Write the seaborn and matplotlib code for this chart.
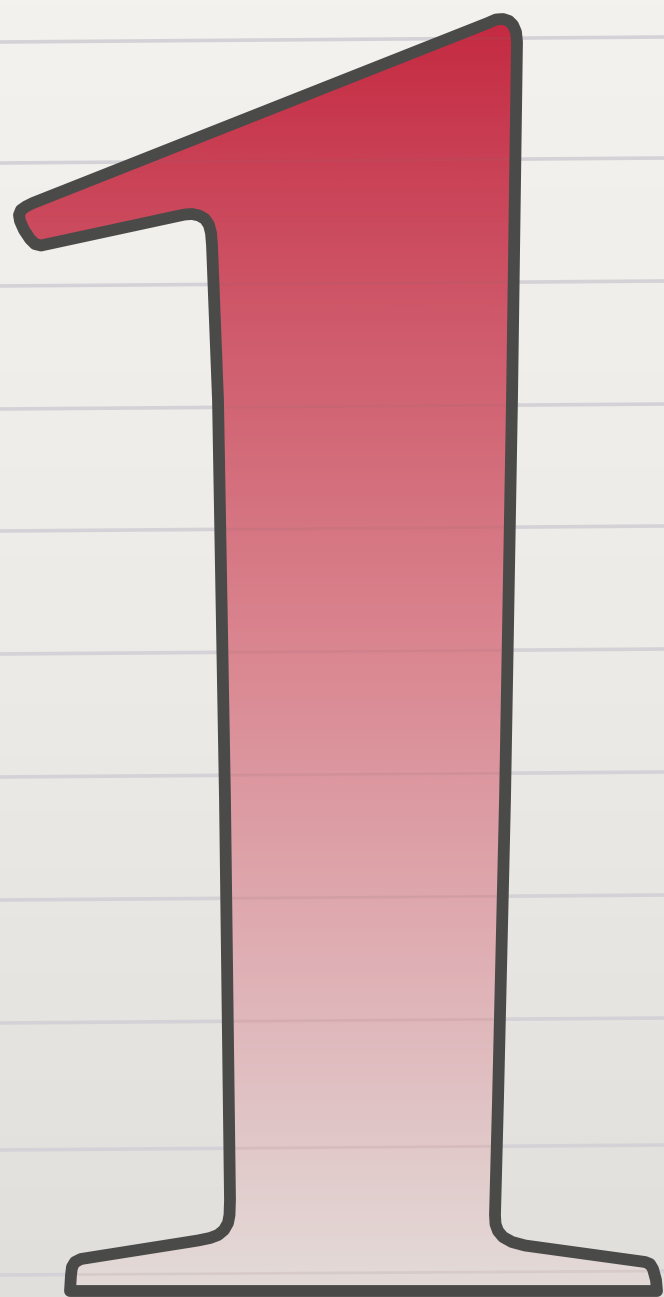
import numpy as np
import pandas as pd
import matplotlib
matplotlib.use("Agg")
import matplotlib.pyplot as plt
import seaborn as sns
from matplotlib.patches import Polygon
from matplotlib.colors import LinearSegmentedColormap

# ------------------------------------------------------
# Data
# ------------------------------------------------------
W, H = 664, 1297

# plank seams: y at the left edge and at the right edge (pixels)
plank_y_left = [42, 163, 286, 409, 531, 654, 777, 900, 1023, 1150, 1275]
plank_y_right = [37, 158, 281, 404, 526, 649, 772, 895, 1018, 1145, 1271]

# outline of the numeral (centre of the stroke), clockwise from the top corner
outline_x = [488, 496, 503, 509, 513, 516, 517, 512, 505, 498, 495,
             495.5, 498, 503, 512, 525, 645, 650, 653, 656, 657,
             70, 71, 72, 75, 81, 198, 210, 218, 224, 228, 229.5, 230,
             225, 218, 212, 211, 209, 205, 199, 192, 185, 180,
             48, 41, 35, 30, 24, 20, 19, 21, 26, 33]
outline_y = [23, 19.5, 19, 21, 25, 32, 42, 400, 800, 1100, 1215,
             1224, 1231, 1237, 1242, 1245.5, 1262, 1264, 1269, 1280, 1291,
             1291, 1275, 1267, 1262, 1259, 1240.5, 1238, 1235, 1230, 1223, 1215, 1200,
             800, 400, 245, 233, 225, 219, 215.5, 214, 214.5, 215.5,
             244, 245.5, 244, 239, 230, 221, 215, 210, 206.5, 203]

# fill gradient stops, top to bottom
fill_stops = [0.0, 0.25, 0.5, 0.75, 1.0]
fill_colors = ["#c4273f", "#cf5a6b", "#da8690", "#dfb1b6", "#e3dcd9"]

bg_colors = ["#f3f2ef", "#ecebe7", "#e1dfdb"]

# ------------------------------------------------------
# Figure
# ------------------------------------------------------
sns.set_theme(style="white")
fig = plt.figure(figsize=(W / 100, H / 100), dpi=100)
ax = fig.add_axes([0, 0, 1, 1])
ax.axis("off")

# background boards
bg_cmap = LinearSegmentedColormap.from_list("bg", bg_colors)
ax.imshow(np.linspace(0, 1, 256).reshape(-1, 1), cmap=bg_cmap, aspect="auto",
          extent=[0, W, H, 0], zorder=0)

planks = pd.DataFrame({
    "x": np.repeat([[0, W]], len(plank_y_left), axis=0).ravel(),
    "y": np.column_stack([plank_y_left, plank_y_right]).ravel(),
    "plank": np.repeat(np.arange(len(plank_y_left)), 2),
})
sns.lineplot(data=planks, x="x", y="y", units="plank", estimator=None,
             color="#d4d2d6", lw=2.6, ax=ax, zorder=1)

# numeral fill with vertical gradient
pts = np.column_stack([outline_x, outline_y])
shape = Polygon(pts, closed=True, facecolor="none", edgecolor="none")
ax.add_patch(shape)
fill_cmap = LinearSegmentedColormap.from_list("fill", list(zip(fill_stops, fill_colors)))
grad = ax.imshow(np.linspace(0, 1, 512).reshape(-1, 1), cmap=fill_cmap,
                 aspect="auto", extent=[0, W, H, 0], zorder=2)
grad.set_clip_path(shape)

# seams faintly visible through the fill
n_before = len(ax.lines)
sns.lineplot(data=planks, x="x", y="y", units="plank", estimator=None,
             color="#8a6a70", lw=2.0, alpha=0.12, ax=ax, zorder=3)
for ln in ax.lines[n_before:]:
    ln.set_clip_path(shape)

# outline
ax.add_patch(Polygon(pts, closed=True, facecolor="none", edgecolor="#4a4a48",
                     lw=8.5, joinstyle="round", zorder=4))

ax.set_xlim(0, W)
ax.set_ylim(H, 0)
fig.savefig("out.png", dpi=100)
